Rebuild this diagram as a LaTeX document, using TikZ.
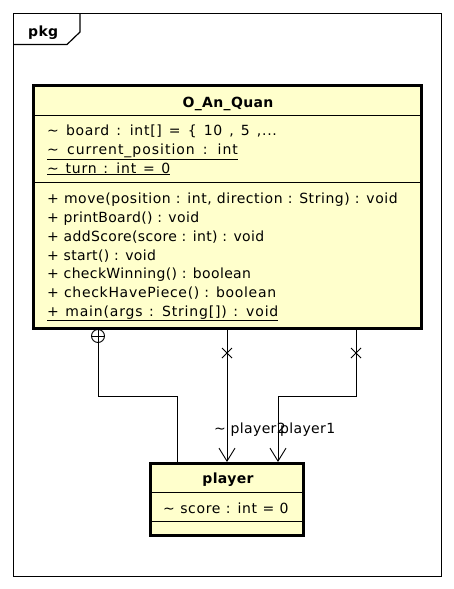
\documentclass[tikz,border=0pt]{standalone}
\usepackage{fontspec}
\setmainfont[LetterSpace=2.5]{DejaVu Sans}
\usetikzlibrary{arrows.meta}
\definecolor{classfill}{HTML}{FFFFCC}
\newcommand{\tld}{\textasciitilde}
% looser letter and word spacing for a single member line
\newcommand{\loosen}[2]{\addfontfeatures{LetterSpace=#1}\spaceskip=#2pt\relax}
\begin{document}
\begin{tikzpicture}[x=1pt,y=-1pt,
  classbox/.style={draw=black, line width=3pt, fill=classfill, inner sep=0pt},
  member/.style={anchor=base west, inner sep=0pt, font=\fontsize{14}{16}\selectfont},
  classname/.style={anchor=base, inner sep=0pt, font=\fontsize{14}{16}\selectfont\bfseries},
  sepline/.style={line width=0.8pt},
  conn/.style={line width=0.9pt},
  openarrow/.style={-{Straight Barb[length=13pt,width=16pt,line width=0.9pt]}},
  rolelabel/.style={anchor=base west, inner sep=0pt, font=\fontsize{14}{16}\selectfont}]
\useasboundingbox (0,0) rectangle (454,589);

% package frame with its name tab
\draw[line width=1.2pt] (13.5,13.5) rectangle (441.5,576.5);
\draw[line width=1.2pt] (13.5,44.5) -- (67,44.5) -- (80,32) -- (80,13.5);
\node[anchor=base west, inner sep=0pt, font=\fontsize{14}{16}\selectfont\bfseries] (pkg) at (28,36) {pkg};

% class O_An_Quan
\node[classbox, minimum width=388pt, minimum height=243pt] (quan) at (227.5,207) {};
\draw[sepline] (quan.west |- 0,115) -- (quan.east |- 0,115);
\draw[sepline] (quan.west |- 0,182) -- (quan.east |- 0,182);
\node[classname] (quanname) at (228,107) {O\_An\_Quan};
\node[member] (a1) at (47,135) {\loosen{5}{7.1}\tld{} board : int[] = \{ 10 , 5 ,...};
\node[member] (a2) at (47,154) {\loosen{7}{8.2}\underline{\tld{} current\_position : int}};
\node[member] (a3) at (47,173) {\loosen{6}{6.6}\underline{\tld{} turn : int = 0}};
\node[member] (m1) at (47,203) {\loosen{4}{5.1}+ move(position : int, direction : String) : void};
\node[member] (m2) at (47,222) {+ printBoard() : void};
\node[member] (m3) at (47,241) {+ addScore(score : int) : void};
\node[member] (m4) at (47,260) {+ start() : void};
\node[member] (m5) at (47,278) {+ checkWinning() : boolean};
\node[member] (m6) at (47,297) {\loosen{5}{5.1}+ checkHavePiece() : boolean};
\node[member] (m7) at (47,316) {\loosen{6}{6.4}\underline{+ main(args : String[]) : void}};

% class player
\node[classbox, minimum width=153pt, minimum height=72pt] (player) at (227,499.5) {};
\draw[sepline] (player.west |- 0,492) -- (player.east |- 0,492);
\draw[sepline] (player.west |- 0,521) -- (player.east |- 0,521);
\node[classname] (playername) at (228,483) {player};
\node[member] (p1) at (163,513) {\loosen{4.5}{5.4}\tld{} score : int = 0};

% routing columns and bend heights
\coordinate (nestx) at (98,0);
\coordinate (nestin) at (177,0);
\coordinate (p2x) at (227,0);
\coordinate (p1out) at (356,0);
\coordinate (p1in) at (278,0);
\coordinate (bend) at (0,396);

% nesting connector (circle-plus at the outer class)
\node[draw, circle, line width=0.9pt, minimum size=13pt, inner sep=0pt] (nest) at (98,336) {};
\draw[conn] (nest.north) -- (nest.south);
\draw[conn] (nest.west) -- (nest.east);
\draw[conn] (nest.south) -- (nestx |- bend) -- (nestin |- bend) -- (player.north -| nestin);

% association player2
\draw[conn, openarrow] (quan.south -| p2x) -- (player.north -| p2x);
\draw[conn] (222,348) -- (232,358) (232,348) -- (222,358);
\node[rolelabel] (r2) at (214,433) {\tld{} player2};

% association player1
\draw[conn, openarrow] (quan.south -| p1out) -- (p1out |- bend) -- (p1in |- bend) -- (player.north -| p1in);
\draw[conn] (351,348) -- (361,358) (361,348) -- (351,358);
\node[rolelabel] (r1) at (280,433) {player1};
\end{tikzpicture}
\end{document}
